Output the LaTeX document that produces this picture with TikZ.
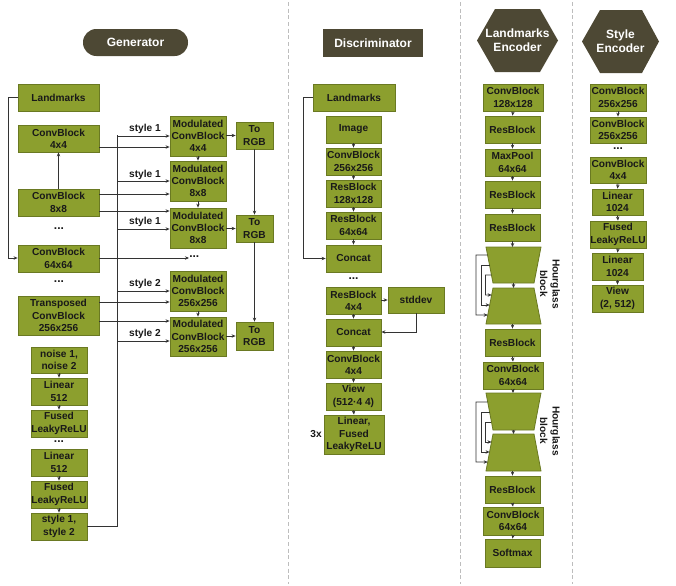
\documentclass[tikz,border=0pt]{standalone}
\usepackage{fontspec}
\setmainfont{Liberation Sans}
\usetikzlibrary{arrows.meta,calc}
\definecolor{olv}{HTML}{8C9F2E}
\definecolor{olvd}{HTML}{6A7922}
\definecolor{ttl}{HTML}{4D4834}
\definecolor{lnc}{HTML}{333333}
\definecolor{sepc}{HTML}{BDBDBD}
\newcommand\bx[6]{\node[blk,minimum width={(#4-#2)*0.75pt},minimum height={(#5-#3)*0.75pt}] (#1) at ({(#2+#4)/2},{(#3+#5)/2}) {#6};}
\begin{document}
\begin{tikzpicture}[x=0.75pt,y=-0.75pt,
 blk/.style={draw=olvd,fill=olv,line width=0.6pt,align=center,inner sep=0pt,text=black!90,font=\fontsize{7.6}{9.2}\selectfont\bfseries},
 lbl/.style={inner sep=0pt,text=black!90,font=\fontsize{7.6}{9.2}\selectfont\bfseries,align=center},
 dotsl/.style={inner sep=0pt,text=black!90,font=\fontsize{9}{9}\selectfont\bfseries},
 ttlf/.style={fill=ttl,text=white,inner sep=0pt,font=\fontsize{9}{10.5}\selectfont\bfseries,align=center},
 ttlt/.style={inner sep=0pt,text=white,font=\fontsize{9}{10.5}\selectfont\bfseries,align=center},
 arr/.style={draw=lnc,line width=0.6pt,-{Stealth[length=3pt,width=2.6pt]}},
 wire/.style={draw=lnc,line width=0.6pt},
 sepl/.style={draw=sepc,line width=0.7pt,dash pattern=on 3pt off 2pt}]
\useasboundingbox (0,0) rectangle (676,586);

% separators
\draw[sepl] (288,2) -- (288,584);
\draw[sepl] (460,2) -- (460,584);
\draw[sepl] (572,2) -- (572,584);

% ================= Generator =================
\node[ttlf,rounded corners=10pt,minimum width={105*0.75pt},minimum height={27*0.75pt}] (GT) at (135.5,42.5) {Generator};
\bx{GL}{18}{84}{99}{111}{Landmarks}
\bx{GC4}{18}{125}{99}{152}{ConvBlock\\4x4}
\bx{GC8}{18}{189}{99}{216}{ConvBlock\\8x8}
\node[dotsl] (GD1) at (59,229) {...};
\bx{GC64}{18}{245}{99}{272}{ConvBlock\\64x64}
\node[dotsl] (GD2) at (59,282) {...};
\bx{GTC}{18}{296}{99}{335}{Transposed\\ConvBlock\\256x256}
\bx{GN}{31}{347}{87}{373}{noise 1,\\noise 2}
\bx{GLin1}{31}{378}{87}{405}{Linear\\512}
\bx{GF1}{31}{410}{87}{437}{Fused\\LeakyReLU}
\node[dotsl] (GD4) at (59,442) {...};
\bx{GLin2}{31}{449}{87}{476}{Linear\\512}
\bx{GF2}{31}{481}{87}{508}{Fused\\LeakyReLU}
\bx{GS}{31}{513}{87}{540}{style 1,\\style 2}
\bx{GM4}{170}{116}{226}{156}{Modulated\\ConvBlock\\4x4}
\bx{GM8a}{170}{161}{226}{201}{Modulated\\ConvBlock\\8x8}
\bx{GM8b}{170}{208}{226}{248}{Modulated\\ConvBlock\\8x8}
\bx{GM256a}{170}{271}{226}{311}{Modulated\\ConvBlock\\256x256}
\bx{GM256b}{170}{317}{226}{356}{Modulated\\ConvBlock\\256x256}
\bx{GR1}{236}{122}{273}{149}{To\\RGB}
\bx{GR2}{236}{215}{273}{242}{To\\RGB}
\bx{GR3}{236}{322}{273}{350}{To\\RGB}
\node[dotsl,anchor=west] (GD3) at (189,257) {...};
\node[lbl] (s1a) at (145,129) {style 1};
\node[lbl] (s1b) at (145,175) {style 1};
\node[lbl] (s1c) at (145,222) {style 1};
\node[lbl] (s2a) at (145,284) {style 2};
\node[lbl] (s2b) at (145,334) {style 2};

% landmarks loop
\coordinate (gLx) at (8,0);
\draw[arr] (GL.west) -- (GL.west -| gLx) -- (gLx |- 0,258) -- (GC64.west |- 0,258);
\draw[arr] (GC8.north) -- (GC4.south);
% conv -> modulated
\draw[arr] (GC4.east |- 0,147) -- (GM4.west |- 0,147);
\draw[arr] (GC8.east |- 0,194) -- (GM8a.west |- 0,194);
\draw[arr] (GC8.east |- 0,211) -- (GM8b.west |- 0,211);
\draw[arr] (GC64.east |- 0,258) -- (GD3.west |- 0,258);
\draw[arr] (GTC.east |- 0,302) -- (GM256a.west |- 0,302);
\draw[arr] (GTC.east |- 0,321) -- (GM256b.west |- 0,321);
% style bus
\coordinate (bus) at (117,135);
\draw[wire] (GS.east) -- (GS.east -| bus) -- (bus);
\draw[arr] (bus |- 0,136) -- (GM4.west |- 0,136);
\draw[arr] (bus |- 0,181) -- (GM8a.west |- 0,181);
\draw[arr] (bus |- 0,229) -- (GM8b.west |- 0,229);
\draw[arr] (bus |- 0,291) -- (GM256a.west |- 0,291);
\draw[arr] (bus |- 0,341) -- (GM256b.west |- 0,341);
% modulated chain
\draw[arr] (GM4.south) -- (GM8a.north);
\draw[arr] (GM8a.south) -- (GM8b.north);
\draw[arr] (GM256a.south) -- (GM256b.north);
% to RGB
\draw[arr] (GM4.east |- GR1.west) -- (GR1.west);
\draw[arr] (GM8b.east |- GR2.west) -- (GR2.west);
\draw[arr] (GM256b.east |- GR3.west) -- (GR3.west);
\draw[arr] (GR1.south) -- (GR2.north);
\draw[arr] (GR2.south) -- (GR3.north);
% mapping stack
\draw[arr] (GN.south) -- (GLin1.north);
\draw[arr] (GLin1.south) -- (GF1.north);
\draw[arr] (GLin2.south) -- (GF2.north);
\draw[arr] (GF2.south) -- (GS.north);

% ================= Discriminator =================
\node[ttlf,minimum width={100*0.75pt},minimum height={28*0.75pt}] (DT) at (373,43) {Discriminator};
\bx{DL}{313}{84}{395}{111}{Landmarks}
\bx{DI}{326}{116}{381}{143}{Image}
\bx{DC256}{326}{148}{381}{175}{ConvBlock\\256x256}
\bx{DR128}{326}{180}{381}{207}{ResBlock\\128x128}
\bx{DR64}{326}{212}{381}{239}{ResBlock\\64x64}
\bx{DCat1}{326}{245}{381}{272}{Concat}
\node[dotsl] (DD) at (353.5,279) {...};
\bx{DR4}{326}{287}{381}{314}{ResBlock\\4x4}
\bx{DSD}{388}{287}{444}{313}{stddev}
\bx{DCat2}{326}{319}{381}{346}{Concat}
\bx{DCB4}{326}{351}{381}{378}{ConvBlock\\4x4}
\bx{DV}{326}{383}{381}{410}{View\\(512·4 4)}
\bx{DLin}{324}{415}{384}{454}{Linear,\\Fused\\LeakyReLU}
\node[lbl] (D3x) at (316,434) {3x};
\coordinate (dLx) at (303,0);
\draw[arr] (DL.west) -- (DL.west -| dLx) -- (dLx |- DCat1.west) -- (DCat1.west);
\draw[arr] (DI.south) -- (DC256.north);
\draw[arr] (DC256.south) -- (DR128.north);
\draw[arr] (DR128.south) -- (DR64.north);
\draw[arr] (DR64.south) -- (DCat1.north);
\draw[arr] (DR4.east |- 0,300) -- (DSD.west |- 0,300);
\coordinate (dsx) at (416,0);
\draw[arr] (DSD.south -| dsx) -- (dsx |- 0,332) -- (DCat2.east |- 0,332);
\draw[arr] (DR4.south) -- (DCat2.north);
\draw[arr] (DCat2.south) -- (DCB4.north);
\draw[arr] (DCB4.south) -- (DV.north);
\draw[arr] (DV.south) -- (DLin.north);

% ================= Landmarks Encoder =================
\fill[ttl] (477,40.5) -- (495,9) -- (540,9) -- (558,40.5) -- (540,72) -- (495,72) -- cycle;
\node[ttlt] (LET) at (517.5,40.5) {Landmarks\\Encoder};
\bx{E1}{483}{84}{543}{111}{ConvBlock\\128x128}
\bx{E2}{485}{116}{540}{143}{ResBlock}
\bx{E3}{485}{149}{540}{176}{MaxPool\\64x64}
\bx{E4}{485}{181}{540}{208}{ResBlock}
\bx{E5}{485}{214}{540}{241}{ResBlock}
\bx{E6}{485}{329}{540}{356}{ResBlock}
\bx{E7}{483}{362}{543}{389}{ConvBlock\\64x64}
\bx{E8}{485}{476}{540}{503}{ResBlock}
\bx{E9}{483}{507}{543}{535}{ConvBlock\\64x64}
\bx{E10}{485}{539}{540}{567}{Softmax}
% hourglass 1
\coordinate (h1atl) at (486,247); \coordinate (h1atr) at (541,247);
\coordinate (h1abl) at (493,283); \coordinate (h1abr) at (534,283);
\coordinate (h1btl) at (493,288); \coordinate (h1btr) at (534,288);
\coordinate (h1bbl) at (486,324); \coordinate (h1bbr) at (541,324);
\filldraw[draw=olvd,fill=olv,line width=0.6pt] (h1atl) -- (h1atr) -- (h1abr) -- (h1abl) -- cycle;
\filldraw[draw=olvd,fill=olv,line width=0.6pt] (h1btl) -- (h1btr) -- (h1bbr) -- (h1bbl) -- cycle;
\coordinate (h1top) at (513.5,247); \coordinate (h1mida) at (513.5,283);
\coordinate (h1midb) at (513.5,288); \coordinate (h1bot) at (513.5,324);
% hourglass 2
\coordinate (h2atl) at (486,393); \coordinate (h2atr) at (541,393);
\coordinate (h2abl) at (493,430); \coordinate (h2abr) at (534,430);
\coordinate (h2btl) at (493,434); \coordinate (h2btr) at (534,434);
\coordinate (h2bbl) at (486,471); \coordinate (h2bbr) at (541,471);
\filldraw[draw=olvd,fill=olv,line width=0.6pt] (h2atl) -- (h2atr) -- (h2abr) -- (h2abl) -- cycle;
\filldraw[draw=olvd,fill=olv,line width=0.6pt] (h2btl) -- (h2btr) -- (h2bbr) -- (h2bbl) -- cycle;
\coordinate (h2top) at (513.5,393); \coordinate (h2mida) at (513.5,430);
\coordinate (h2midb) at (513.5,434); \coordinate (h2bot) at (513.5,471);
% skip connections
\foreach \fa/\fb/\xx in {0.222/0.75/476, 0.5/0.472/481, 0.778/0.194/485.5}{
  \draw[arr] ($(h1atl)!\fa!(h1abl)$) -- (\xx,{247+36*\fa}) -- (\xx,{288+36*\fb}) -- ($(h1btl)!\fb!(h1bbl)$);
}
\foreach \fa/\fb/\xx in {0.243/0.757/476, 0.514/0.486/481, 0.784/0.216/485.5}{
  \draw[arr] ($(h2atl)!\fa!(h2abl)$) -- (\xx,{393+37*\fa}) -- (\xx,{434+37*\fb}) -- ($(h2btl)!\fb!(h2bbl)$);
}
\node[lbl,rotate=-90] (HL1) at (550,284) {Hourglass\\block};
\node[lbl,rotate=-90] (HL2) at (550,431) {Hourglass\\block};
\draw[arr] (E1.south) -- (E2.north);
\draw[arr] (E2.south) -- (E3.north);
\draw[arr] (E3.south) -- (E4.north);
\draw[arr] (E4.south) -- (E5.north);
\draw[arr] (E5.south) -- (E5.south |- h1top);
\draw[arr] (h1mida) -- (h1midb);
\draw[arr] (E6.north |- h1bot) -- (E6.north);
\draw[arr] (E6.south) -- (E7.north);
\draw[arr] (E7.south) -- (E7.south |- h2top);
\draw[arr] (h2mida) -- (h2midb);
\draw[arr] (E8.north |- h2bot) -- (E8.north);
\draw[arr] (E8.south) -- (E9.north);
\draw[arr] (E9.south) -- (E10.north);

% ================= Style Encoder =================
\fill[ttl] (582,41.5) -- (600,10) -- (642,10) -- (659,41.5) -- (642,73) -- (600,73) -- cycle;
\node[ttlt] (SET) at (620.5,41.5) {Style\\Encoder};
\bx{S1}{590}{84}{646}{111}{ConvBlock\\256x256}
\bx{S2}{590}{117}{646}{143}{ConvBlock\\256x256}
\node[dotsl] (SD) at (618,149) {...};
\bx{S3}{590}{157}{646}{183}{ConvBlock\\4x4}
\bx{S4}{592}{189}{643}{215}{Linear\\1024}
\bx{S5}{590}{221}{646}{248}{Fused\\LeakyReLU}
\bx{S6}{592}{253}{643}{280}{Linear\\1024}
\bx{S7}{592}{285}{643}{312}{View\\(2, 512)}
\draw[arr] (S1.south) -- (S2.north);
\draw[arr] (S3.south) -- (S4.north);
\draw[arr] (S4.south) -- (S5.north);
\draw[arr] (S5.south) -- (S6.north);
\draw[arr] (S6.south) -- (S7.north);
\end{tikzpicture}
\end{document}
